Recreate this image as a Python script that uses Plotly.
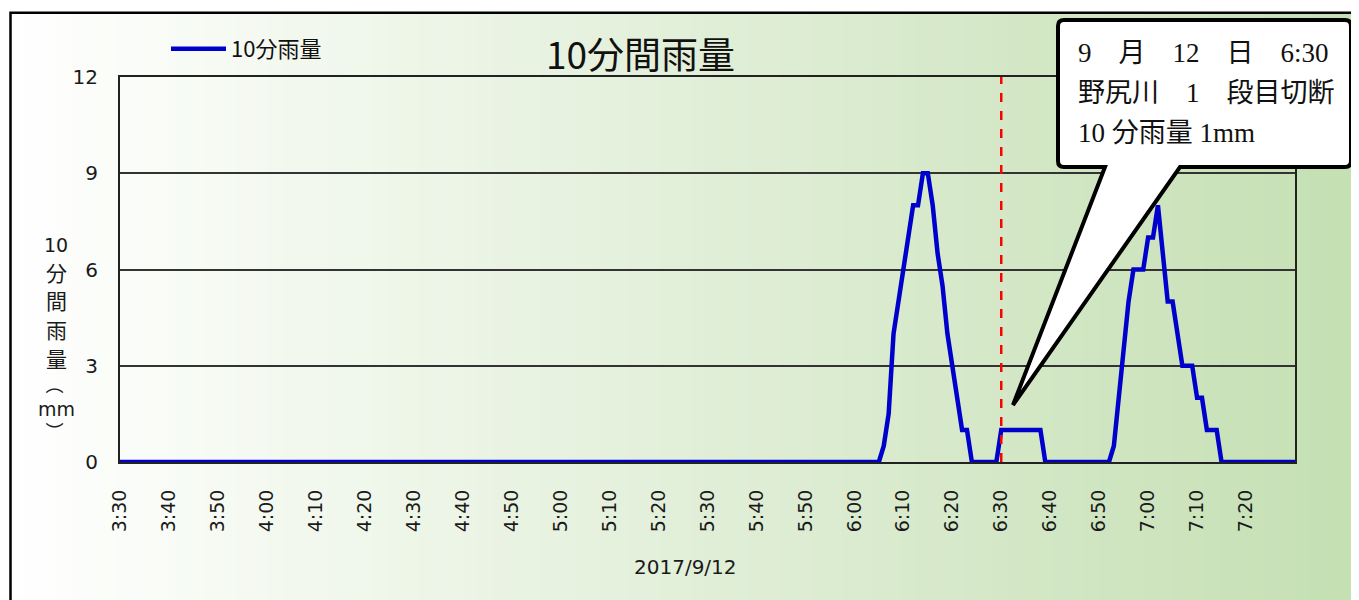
import pandas as pd
import plotly.graph_objects as go

# ---------------- data ----------------
date_str = "2017-09-12"
start_time = "03:30"
n_minutes = 241  # 3:30 .. 7:30, one value per minute

rain_10min = (
    [0] * 156
    + [0.5, 1.5, 4, 5, 6, 7, 8, 8, 9, 9, 8, 6.5, 5.5, 4, 3, 2, 1, 1]
    + [0] * 6
    + [1, 1, 1, 1, 1, 1, 1, 1, 1]
    + [0] * 14
    + [0.5, 2, 3.5, 5, 6, 6, 6, 7, 7, 8, 6.5, 5, 5, 4, 3, 3, 3, 2, 2, 1, 1, 1]
    + [0] * 16
)
times = pd.date_range(f"{date_str} {start_time}", periods=n_minutes, freq="1min")

tick_labels = ["3:30", "3:40", "3:50", "4:00", "4:10", "4:20", "4:30", "4:40",
               "4:50", "5:00", "5:10", "5:20", "5:30", "5:40", "5:50", "6:00",
               "6:10", "6:20", "6:30", "6:40", "6:50", "7:00", "7:10", "7:20"]
y_ticks = [0, 3, 6, 9, 12]

event_time = "06:30"
series_name = "10分雨量"
chart_title = "10分間雨量"
x_title = "2017/9/12"
y_title_parts = ["10", "分", "間", "雨", "量", "（", "mm", "）"]
callout_lines = ["9\u3000月\u300012\u3000日\u30006:30",
                 "野尻川\u30001\u3000段目切断",
                 "10 分雨量 1mm"]

# ---------------- layout geometry (screen pixels) ----------------
OFF = 8                      # page body margin
W, H = 1359 - OFF, 600 - OFF
PL, PR, PT, PB = 120, 1295, 77, 462   # plot area in screen pixels


def px(x):
    return (x - PL) / (PR - PL)


def py(y):
    return (PB - y) / (PB - PT)


tickvals = [f"{date_str} {int(t.split(':')[0]):02d}:{t.split(':')[1]}" for t in tick_labels]

fig = go.Figure()
fig.add_trace(go.Scatter(
    x=times, y=rain_10min, mode="lines", name=series_name,
    line=dict(color="#0000CC", width=4.5), showlegend=True,
))

shapes = []
# background gradient (white -> light green)
n_strips = 90
gx0, gx1 = 10, 1370
gy0, gy1 = 12, 620
c0 = (255, 255, 255)
c1 = (196, 223, 178)
for i in range(n_strips):
    t = (i + 0.5) / n_strips
    col = tuple(round(c0[k] + (c1[k] - c0[k]) * t) for k in range(3))
    xa = gx0 + (gx1 - gx0) * i / n_strips
    xb = gx0 + (gx1 - gx0) * (i + 1) / n_strips + 0.8
    shapes.append(dict(type="rect", xref="paper", yref="paper",
                       x0=px(xa), x1=px(xb), y0=py(gy1), y1=py(gy0),
                       fillcolor=f"rgb{col}", line=dict(width=0), layer="below"))
# outer frame
shapes.append(dict(type="rect", xref="paper", yref="paper",
                   x0=px(10.5), x1=px(1380), y0=py(640), y1=py(12.8),
                   line=dict(color="black", width=2.5), fillcolor="rgba(0,0,0,0)",
                   layer="above"))
# event marker
shapes.append(dict(type="line", xref="x", yref="paper",
                   x0=f"{date_str} {event_time}", x1=f"{date_str} {event_time}",
                   y0=0, y1=1, line=dict(color="#FF0000", width=2.5, dash="dash"),
                   layer="above"))
# callout bubble
bl, br, bt, bb, r = 1058, 1351, 20, 167, 6
pbl, pbr, tipx, tipy = 1105, 1180, 1013, 405


def P(x, y):
    return f"{px(x):.5f},{py(y):.5f}"


path = (f"M{P(bl + r, bt)} L{P(br - r, bt)} Q{P(br, bt)} {P(br, bt + r)} "
        f"L{P(br, bb - r)} Q{P(br, bb)} {P(br - r, bb)} L{P(pbr, bb)} "
        f"L{P(tipx, tipy)} L{P(pbl, bb)} L{P(bl + r, bb)} Q{P(bl, bb)} {P(bl, bb - r)} "
        f"L{P(bl, bt + r)} Q{P(bl, bt)} {P(bl + r, bt)} Z")
shapes.append(dict(type="path", xref="paper", yref="paper", path=path,
                   fillcolor="white", line=dict(color="black", width=4), layer="above"))

annotations = []
annotations.append(dict(text=chart_title, xref="paper", yref="paper",
                        x=px(640), y=py(53), showarrow=False,
                        xanchor="center", yanchor="middle",
                        font=dict(family="Noto Sans CJK JP", size=37, color="#111")))
annotations.append(dict(text=x_title, xref="paper", yref="paper",
                        x=px(685), y=py(567), showarrow=False,
                        xanchor="center", yanchor="middle",
                        font=dict(family="DejaVu Sans", size=20, color="#1a1a1a")))
# stacked vertical y-axis title
y_title_pos = [245, 272, 300, 329, 358, 385, 409, 431]
for part, yp in zip(y_title_parts, y_title_pos):
    is_paren = part in "（）"
    is_cjk = part in "分間雨量（）"
    annotations.append(dict(
        text=part, xref="paper", yref="paper", x=px(56), y=py(yp),
        showarrow=False, xanchor="center", yanchor="middle",
        textangle=90 if is_paren else 0,
        font=dict(family="Noto Sans CJK JP" if is_cjk else "DejaVu Sans",
                  size=(18 if is_paren else 21) if is_cjk else 19,
                  color="#1a1a1a")))
for i, line in enumerate(callout_lines):
    annotations.append(dict(text=line, xref="paper", yref="paper",
                            x=px(1076), y=py(53 + 40 * i), showarrow=False,
                            xanchor="left", yanchor="middle", align="left",
                            font=dict(family="Liberation Serif, Noto Sans CJK JP",
                                      size=27, color="#111")))

fig.update_layout(
    width=W, height=H,
    margin=dict(l=PL - OFF, r=W - (PR - OFF), t=PT - OFF, b=H - (PB - OFF), pad=0),
    paper_bgcolor="white", plot_bgcolor="rgba(0,0,0,0)",
    shapes=shapes, annotations=annotations,
    legend=dict(x=px(166), y=py(49), xanchor="left", yanchor="middle",
                bgcolor="rgba(0,0,0,0)", itemwidth=55,
                font=dict(family="Noto Sans CJK JP", size=22, color="#111")),
    xaxis=dict(type="date", range=[f"{date_str} 03:30", f"{date_str} 07:30"],
               tickvals=tickvals, ticktext=tick_labels, tickangle=-90,
               showgrid=False, zeroline=False, ticks="",
               showline=True, linecolor="#222", linewidth=2, mirror=True,
               ticklabelstandoff=18,
               tickfont=dict(family="DejaVu Sans", size=19, color="#1a1a1a")),
    yaxis=dict(range=[0, 12], tickvals=y_ticks, showgrid=True,
               gridcolor="#333", gridwidth=2, zeroline=False, ticks="",
               showline=True, linecolor="#222", linewidth=2, mirror=True,
               ticklabelstandoff=16,
               tickfont=dict(family="DejaVu Sans", size=20, color="#1a1a1a")),
)

fig.write_html("out.html")
